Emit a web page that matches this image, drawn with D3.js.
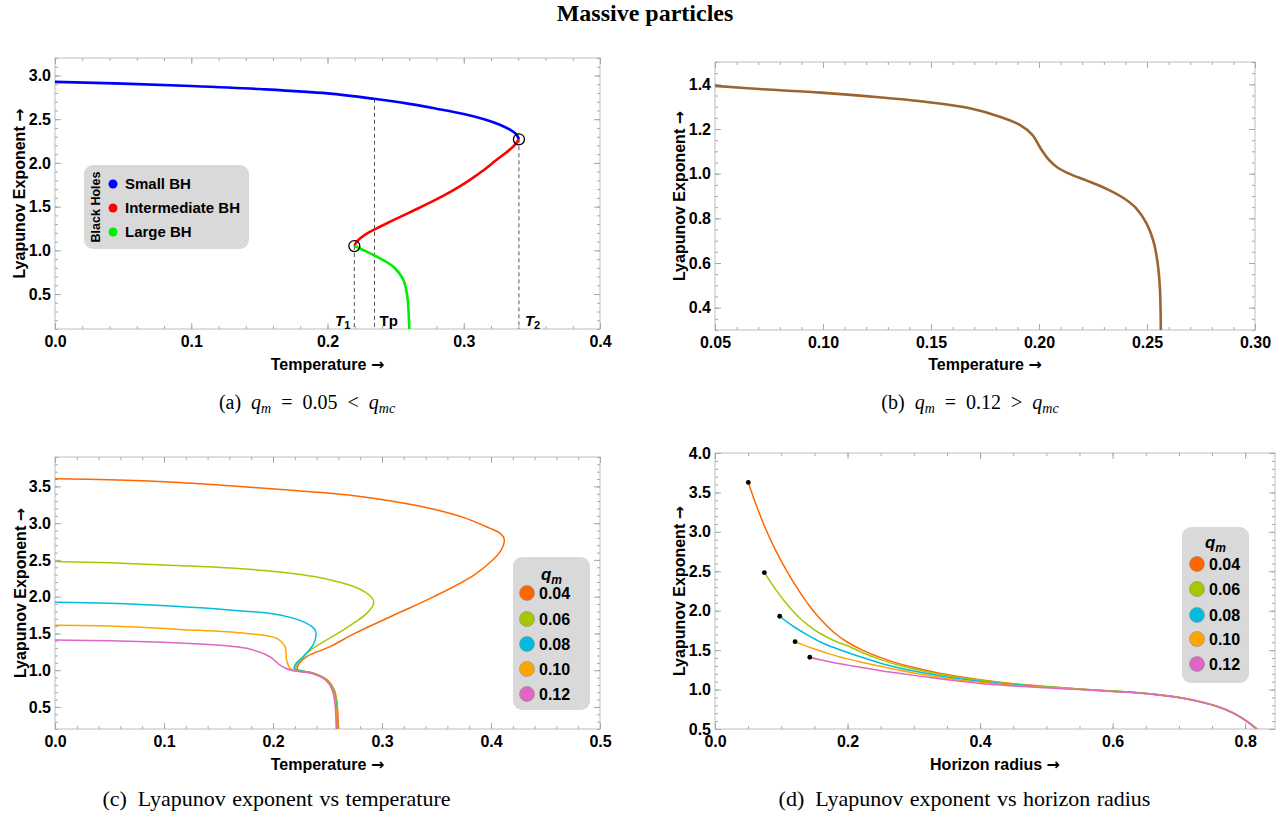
<!DOCTYPE html>
<html>
<head>
<meta charset="utf-8">
<script src="https://cdn.jsdelivr.net/npm/d3@7"></script>
<style>
  body { margin: 0; background: #fff; }
  svg text { font-family: "Liberation Sans", Arial, sans-serif; }
</style>
</head>
<body>
<svg id="fig" width="1288" height="816"></svg>
<script>
// ---- data ----
// (a) q_m = 0.05 : [temperature, lyapunov]
var smallBH = [[0,2.927],[0.05,2.907],[0.1,2.88],[0.15,2.845],[0.2,2.795],[0.234,2.733],[0.26,2.675],
               [0.28,2.62],[0.3,2.56],[0.315,2.50],[0.326,2.44],[0.334,2.38],[0.3385,2.33],[0.3405,2.27]];
var intermediateBH = [[0.3405,2.27],[0.3372,2.2],[0.3312,2.12],[0.3237,2.03],[0.3145,1.915],[0.3035,1.795],
                      [0.2915,1.68],[0.2777,1.565],[0.2625,1.45],[0.2483,1.345],[0.2385,1.27],[0.231,1.21],
                      [0.2255,1.155],[0.2215,1.10],[0.2197,1.049]];
var largeBH = [[0.2197,1.049],[0.228,0.99],[0.2361,0.927],[0.2483,0.812],[0.2557,0.66],[0.2586,0.469],
               [0.2598,0.2],[0.26,0.1]];
var markT = [0.2197, 0.2345, 0.3405];
var markTop = [1.049, 2.733, 2.27];
var turnPoints = [[0.2197,1.049],[0.3405,2.27]];
var bhNames = ["Small BH", "Intermediate BH", "Large BH"];
var bhColors = ["#0000ff", "#ff0000", "#00ee00"];

// (b) q_m = 0.12
var qm012 = [[0.05,1.393],[0.0721,1.378],[0.099,1.363],[0.1258,1.342],[0.1489,1.320],[0.168,1.293],
             [0.1815,1.256],[0.1911,1.218],[0.1969,1.174],[0.2007,1.114],[0.2046,1.062],[0.2084,1.029],
             [0.2142,0.999],[0.2219,0.970],[0.2315,0.931],[0.2391,0.891],[0.2449,0.846],[0.2497,0.779],
             [0.2532,0.690],[0.2551,0.586],[0.256,0.482],[0.2564,0.30]];

// (c) lyapunov vs temperature
var tq04 = [[0,3.605],[0.05,3.59],[0.1,3.565],[0.15,3.52],[0.2017,3.464],[0.25,3.41],[0.2746,3.373],
            [0.311,3.295],[0.3476,3.19],[0.3767,3.068],[0.3986,2.932],[0.4075,2.87],[0.4115,2.81],
            [0.4122,2.75],[0.4108,2.68],[0.4078,2.60],[0.4023,2.51],[0.384,2.29],[0.3476,2.0],
            [0.311,1.75],[0.275,1.50],[0.2523,1.32],[0.2309,1.183],[0.2232,1.07],[0.2225,1.01],
            [0.238,0.955],[0.2502,0.862],[0.2563,0.73],[0.2588,0.55],[0.2597,0.35],[0.26,0.2]];
var tq06 = [[0,2.477],[0.05,2.46],[0.1,2.43],[0.165,2.386],[0.21,2.33],[0.238,2.273],[0.26,2.2],
            [0.2746,2.136],[0.285,2.06],[0.291,1.98],[0.2925,1.93],[0.291,1.86],[0.2865,1.78],[0.279,1.69],
            [0.269,1.59],[0.257,1.48],[0.245,1.375],[0.234,1.27],[0.226,1.16],[0.2215,1.07],[0.2212,1.02],
            [0.2375,0.957],[0.2497,0.864],[0.2558,0.73],[0.2583,0.55],[0.2592,0.35],[0.2595,0.2]];
var tq08 = [[0,1.923],[0.05,1.91],[0.11,1.87],[0.16,1.82],[0.2064,1.75],[0.2309,1.637],[0.2385,1.55],
            [0.2395,1.48],[0.237,1.35],[0.2278,1.183],[0.2202,1.07],[0.2197,1.02],[0.237,0.957],
            [0.2492,0.866],[0.2553,0.73],[0.2578,0.55],[0.2587,0.35],[0.259,0.2]];
var tq10 = [[0,1.61],[0.05,1.60],[0.1147,1.555],[0.1758,1.5],[0.2034,1.433],[0.211,1.32],[0.2125,1.138],
            [0.2156,1.025],[0.222,0.99],[0.2365,0.955],[0.2487,0.866],[0.2548,0.73],[0.2573,0.55],
            [0.2582,0.35],[0.2585,0.2]];
var tq12 = [[0,1.41],[0.05,1.40],[0.1147,1.37],[0.1758,1.297],[0.1972,1.183],[0.2064,1.07],[0.2156,1.002],
            [0.226,0.98],[0.236,0.955],[0.2482,0.866],[0.2543,0.73],[0.2568,0.55],[0.2577,0.35],[0.258,0.2]];

// (d) lyapunov vs horizon radius
var rq04 = [[0.0503,3.627],[0.06,3.39],[0.07,3.17],[0.08,2.97],[0.09,2.79],[0.1,2.63],[0.11,2.48],
            [0.12,2.34],[0.13,2.21],[0.14,2.09],[0.15,1.98],[0.165,1.84],[0.18,1.72],[0.2,1.60],
            [0.225,1.49],[0.25,1.405],[0.275,1.335],[0.3,1.28],[0.35,1.19],[0.4,1.125],[0.45,1.075],
            [0.5,1.04],[0.55,1.008],[0.6,0.982],[0.65,0.952],[0.7,0.902],[0.73,0.852],[0.76,0.782],
            [0.78,0.712],[0.795,0.642],[0.807,0.572],[0.8185,0.5]];
var rq06 = [[0.0745,2.484],[0.085,2.35],[0.095,2.23],[0.105,2.12],[0.115,2.02],[0.125,1.93],[0.14,1.82],
            [0.155,1.73],[0.17,1.66],[0.185,1.60],[0.2,1.555],[0.225,1.46],[0.25,1.38],[0.275,1.315],
            [0.3,1.262],[0.35,1.178],[0.4,1.117],[0.45,1.07],[0.5,1.037],[0.55,1.006],[0.6,0.981],
            [0.65,0.951],[0.7,0.901],[0.73,0.851],[0.76,0.781],[0.78,0.711],[0.795,0.641],[0.807,0.571],
            [0.818,0.5]];
var rq08 = [[0.0976,1.93],[0.11,1.85],[0.125,1.765],[0.14,1.69],[0.16,1.60],[0.18,1.53],[0.2,1.47],
            [0.225,1.40],[0.25,1.335],[0.275,1.28],[0.3,1.235],[0.35,1.16],[0.4,1.105],[0.45,1.063],
            [0.5,1.033],[0.55,1.005],[0.6,0.98],[0.65,0.95],[0.7,0.90],[0.73,0.85],[0.76,0.78],[0.78,0.71],
            [0.795,0.64],[0.807,0.57],[0.8175,0.5]];
var rq10 = [[0.1208,1.608],[0.135,1.56],[0.15,1.515],[0.17,1.46],[0.19,1.41],[0.21,1.37],[0.23,1.33],
            [0.25,1.295],[0.275,1.25],[0.3,1.21],[0.35,1.14],[0.4,1.092],[0.45,1.055],[0.5,1.028],
            [0.55,1.003],[0.6,0.979],[0.65,0.949],[0.7,0.899],[0.73,0.849],[0.76,0.779],[0.78,0.709],
            [0.795,0.639],[0.807,0.569],[0.817,0.5]];
var rq12 = [[0.143,1.41],[0.16,1.375],[0.18,1.34],[0.2,1.31],[0.229,1.27],[0.25,1.24],[0.275,1.21],
            [0.3,1.18],[0.35,1.125],[0.4,1.077],[0.45,1.046],[0.5,1.022],[0.55,1.0],[0.6,0.977],
            [0.65,0.947],[0.7,0.897],[0.73,0.847],[0.76,0.777],[0.78,0.707],[0.795,0.637],[0.807,0.567],
            [0.8165,0.5]];

var qLabels = ["0.04", "0.06", "0.08", "0.10", "0.12"];
var qColors = ["#ff6600", "#a5c800", "#00bde0", "#ffa500", "#e066c6"];
var tempSeries = [tq04, tq06, tq08, tq10, tq12];
var radiusSeries = [rq04, rq06, rq08, rq10, rq12];

var svg = d3.select("#fig");
var arrowFont = "'DejaVu Sans', sans-serif";
var serif = "'Liberation Serif', 'Times New Roman', serif";

// draws frame, ticks, labels, returns scales
function panel(p) {
    var x = d3.scaleLinear().domain(p.xDomain).range([p.left, p.right]);
    var y = d3.scaleLinear().domain(p.yDomain).range([p.bottom, p.top]);
    var g = svg.append("g");

    g.append("rect")
        .attr("x", p.left).attr("y", p.top)
        .attr("width", p.right - p.left).attr("height", p.bottom - p.top)
        .attr("fill", "none").attr("stroke", "#bdbdbd").attr("stroke-width", 1);

    function addAxis(axis, tx, ty) {
        var a = g.append("g").attr("transform", "translate(" + tx + "," + ty + ")").call(axis);
        a.select(".domain").remove();
        a.selectAll(".tick line").attr("stroke", "#a8a8a8");
        return a;
    }
    // minor ticks on all sides
    addAxis(d3.axisBottom(x).tickValues(p.xMinor).tickSize(-3).tickFormat(""), 0, p.bottom);
    addAxis(d3.axisTop(x).tickValues(p.xMinor).tickSize(-3).tickFormat(""), 0, p.top);
    addAxis(d3.axisLeft(y).tickValues(p.yMinor).tickSize(-3).tickFormat(""), p.left, 0);
    addAxis(d3.axisRight(y).tickValues(p.yMinor).tickSize(-3).tickFormat(""), p.right, 0);
    // major ticks
    var xb = addAxis(d3.axisBottom(x).tickValues(p.xMajor).tickSize(-6).tickPadding(7)
        .tickFormat(d3.format(p.xFmt)), 0, p.bottom);
    var yl = addAxis(d3.axisLeft(y).tickValues(p.yMajor).tickSize(-6).tickPadding(4)
        .tickFormat(d3.format(p.yFmt)), p.left, 0);
    addAxis(d3.axisTop(x).tickValues(p.xMajor).tickSize(-6).tickFormat(""), 0, p.top);
    addAxis(d3.axisRight(y).tickValues(p.yMajor).tickSize(-6).tickFormat(""), p.right, 0);
    [xb, yl].forEach(function(a) {
        a.selectAll("text")
            .attr("fill", "#000")
            .style("font-family", "'Liberation Sans', Arial, sans-serif")
            .style("font-weight", "bold")
            .style("font-size", "16px");
    });

    var xl = g.append("text")
        .attr("x", (p.left + p.right) / 2).attr("y", p.xLabelY)
        .attr("text-anchor", "middle")
        .style("font-weight", "bold").style("font-size", "16px");
    xl.append("tspan").text(p.xLabel + " ");
    xl.append("tspan").style("font-family", arrowFont).text("\u2192");
    var ylab = g.append("text")
        .attr("transform", "translate(" + p.yLabelX + "," + (p.top + p.bottom) / 2 + ") rotate(-90)")
        .attr("text-anchor", "middle")
        .style("font-weight", "bold").style("font-size", "16px");
    ylab.append("tspan").text("Lyapunov Exponent ");
    ylab.append("tspan").style("font-family", arrowFont).text("\u2192");

    var clipId = "clip" + p.id;
    svg.append("clipPath").attr("id", clipId)
        .append("rect")
        .attr("x", p.left).attr("y", p.top)
        .attr("width", p.right - p.left).attr("height", p.bottom - p.top);
    var plot = svg.append("g").attr("clip-path", "url(#" + clipId + ")");

    return { x: x, y: y, plot: plot };
}

function curve(ax) {
    return d3.line()
        .x(function(d) { return ax.x(d[0]); })
        .y(function(d) { return ax.y(d[1]); })
        .curve(d3.curveCatmullRom.alpha(0.5));
}

// subfigure caption, with q_m relation when given
function caption(cx, cy, label, rel, value) {
    var t = svg.append("text")
        .attr("x", cx).attr("y", cy)
        .attr("text-anchor", "middle")
        .style("font-family", serif)
        .style("font-size", rel ? "20px" : "22px")
        .style("word-spacing", rel ? "0px" : "1px");
    t.append("tspan").text(label + "\u2002");
    if (rel) {
        t.append("tspan").style("font-style", "italic").text("q");
        t.append("tspan").style("font-style", "italic").style("font-size", "14px").attr("dy", 4).text("m");
        t.append("tspan").attr("dy", -4).text("\u2002=\u2002" + value + "\u2002" + rel + "\u2002");
        t.append("tspan").style("font-style", "italic").text("q");
        t.append("tspan").style("font-style", "italic").style("font-size", "14px").attr("dy", 4).text("mc");
    }
}

function qLegend(lx, ly, w, h, cx, textX, titleY, rows) {
    svg.append("rect")
        .attr("x", lx).attr("y", ly).attr("width", w).attr("height", h)
        .attr("rx", 9).attr("fill", "#d9d9d9");
    var tt = svg.append("text")
        .attr("x", lx + w / 2).attr("y", titleY)
        .attr("text-anchor", "middle")
        .style("font-weight", "bold").style("font-style", "italic").style("font-size", "17px");
    tt.append("tspan").text("q");
    tt.append("tspan").attr("dy", 4).style("font-size", "12px").text("m");
    qLabels.forEach(function(lab, i) {
        svg.append("circle")
            .attr("cx", cx).attr("cy", rows[i]).attr("r", 7.5)
            .attr("fill", qColors[i]).attr("stroke", "#8a8a8a").attr("stroke-width", 0.6);
        svg.append("text")
            .attr("x", textX).attr("y", rows[i] + 6)
            .style("font-weight", "bold").style("font-size", "16px")
            .text(lab);
    });
}

// ---- title ----
svg.append("text")
    .attr("x", 645).attr("y", 21)
    .attr("text-anchor", "middle")
    .style("font-family", serif)
    .style("font-weight", "bold").style("font-size", "24px")
    .text("Massive particles");

// ---- (a) ----
var A = panel({
    id: "a", left: 55, right: 600, top: 58, bottom: 329,
    xDomain: [0, 0.4], yDomain: [0.1, 3.2],
    xMajor: d3.range(0, 0.41, 0.1), xMinor: d3.range(0, 0.401, 0.02),
    yMajor: d3.range(0.5, 3.01, 0.5), yMinor: d3.range(0.1, 3.21, 0.1),
    xFmt: ".1f", yFmt: ".1f",
    xLabel: "Temperature", xLabelY: 370, yLabelX: 25
});
markT.forEach(function(t, i) {
    A.plot.append("line")
        .attr("x1", A.x(t)).attr("x2", A.x(t))
        .attr("y1", A.y(markTop[i])).attr("y2", A.y(0.1))
        .attr("stroke", "#555").attr("stroke-width", 1).attr("stroke-dasharray", "4,3");
});
[smallBH, intermediateBH, largeBH].forEach(function(s, i) {
    A.plot.append("path").datum(s)
        .attr("d", curve(A)).attr("fill", "none")
        .attr("stroke", bhColors[i]).attr("stroke-width", 2.6);
});
turnPoints.forEach(function(d) {
    svg.append("circle")
        .attr("cx", A.x(d[0])).attr("cy", A.y(d[1])).attr("r", 5.5)
        .attr("fill", "none").attr("stroke", "#000").attr("stroke-width", 1.3);
});
// phase transition temperature labels
function tLabel(x, anchor, main, sub, italic) {
    var t = svg.append("text").attr("x", x).attr("y", 326).attr("text-anchor", anchor)
        .style("font-weight", "bold").style("font-size", "15px");
    t.append("tspan").style("font-style", italic ? "italic" : "normal").text(main);
    if (sub) t.append("tspan").attr("dy", 3).style("font-size", "11px").text(sub);
}
tLabel(A.x(markT[0]) - 4, "end", "T", "1", true);
tLabel(A.x(markT[1]) + 5, "start", "Tp", null, false);
tLabel(A.x(markT[2]) + 6, "start", "T", "2", true);

// legend (a)
svg.append("rect").attr("x", 84).attr("y", 165).attr("width", 165).attr("height", 84)
    .attr("rx", 9).attr("fill", "#d9d9d9");
svg.append("text")
    .attr("transform", "translate(99.5,207) rotate(-90)")
    .attr("text-anchor", "middle")
    .style("font-weight", "bold").style("font-size", "12.5px")
    .text("Black Holes");
bhNames.forEach(function(n, i) {
    var cy = 184 + i * 24;
    svg.append("circle").attr("cx", 113).attr("cy", cy).attr("r", 4.5).attr("fill", bhColors[i]);
    svg.append("text").attr("x", 125).attr("y", cy + 5)
        .style("font-weight", "bold").style("font-size", "15px").text(n);
});

// ---- (b) ----
var B = panel({
    id: "b", left: 715, right: 1255, top: 62, bottom: 330,
    xDomain: [0.05, 0.30], yDomain: [0.3, 1.5],
    xMajor: d3.range(0.05, 0.301, 0.05), xMinor: d3.range(0.05, 0.3001, 0.01),
    yMajor: d3.range(0.4, 1.41, 0.2), yMinor: d3.range(0.3, 1.501, 0.05),
    xFmt: ".2f", yFmt: ".1f",
    xLabel: "Temperature", xLabelY: 370, yLabelX: 685
});
B.plot.append("path").datum(qm012)
    .attr("d", curve(B)).attr("fill", "none")
    .attr("stroke", "#9c6430").attr("stroke-width", 2.6);

// ---- (c) ----
var C = panel({
    id: "c", left: 55, right: 600, top: 457, bottom: 729,
    xDomain: [0, 0.5], yDomain: [0.2, 3.9],
    xMajor: d3.range(0, 0.51, 0.1), xMinor: d3.range(0, 0.501, 0.02),
    yMajor: d3.range(0.5, 3.51, 0.5), yMinor: d3.range(0.2, 3.91, 0.1),
    xFmt: ".1f", yFmt: ".1f",
    xLabel: "Temperature", xLabelY: 770, yLabelX: 26
});
tempSeries.forEach(function(s, i) {
    C.plot.append("path").datum(s)
        .attr("d", curve(C)).attr("fill", "none")
        .attr("stroke", qColors[i]).attr("stroke-width", 1.5);
});
qLegend(513, 557, 77, 153, 527, 539, 580, [593, 619, 644, 669, 694]);

// ---- (d) ----
var D = panel({
    id: "d", left: 715, right: 1275, top: 453, bottom: 729,
    xDomain: [0, 0.845], yDomain: [0.5, 4.0],
    xMajor: d3.range(0, 0.81, 0.2), xMinor: d3.range(0, 0.846, 0.05),
    yMajor: d3.range(0.5, 4.01, 0.5), yMinor: d3.range(0.5, 4.01, 0.1),
    xFmt: ".1f", yFmt: ".1f",
    xLabel: "Horizon radius", xLabelY: 770, yLabelX: 685
});
radiusSeries.forEach(function(s, i) {
    D.plot.append("path").datum(s)
        .attr("d", curve(D)).attr("fill", "none")
        .attr("stroke", qColors[i]).attr("stroke-width", 1.5);
    svg.append("circle")
        .attr("cx", D.x(s[0][0])).attr("cy", D.y(s[0][1])).attr("r", 2.4).attr("fill", "#000");
});
qLegend(1182, 527, 67, 156, 1197, 1209, 548, [564, 589, 615, 639, 664]);

// ---- captions ----
caption(307, 409, "(a)", "<", "0.05");
caption(970, 409, "(b)", ">", "0.12");
caption(282, 806, "(c)\u2002Lyapunov exponent vs temperature");
caption(970, 806, "(d)\u2002Lyapunov exponent vs horizon radius");
</script>
</body>
</html>
